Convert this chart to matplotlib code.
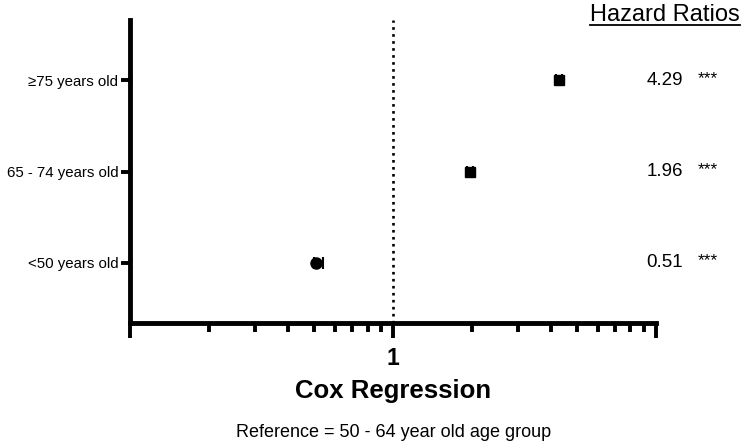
import matplotlib
matplotlib.use("Agg")
import matplotlib.pyplot as plt
import matplotlib.ticker as ticker
import matplotlib.transforms as transforms
from matplotlib.lines import Line2D

plt.rcParams['font.family'] = ['Liberation Sans', 'DejaVu Sans']

# data (bottom to top)
groups = ['<50 years old', '65 - 74 years old', '≥75 years old']
hr = [0.51, 1.96, 4.29]
ci_lo = [0.50, 1.91, 4.17]
ci_hi = [0.54, 2.01, 4.41]
hr_text = ['0.51', '1.96', '4.29']
sig = ['***', '***', '***']
markers = ['o', 's', 's']

fig = plt.figure(figsize=(7.49, 4.45), dpi=100)
ax = fig.add_axes([0.1736, 0.2742, 0.7022, 0.6808])

ypos = list(range(len(groups)))
for i in ypos:
    ax.errorbar(hr[i], i, xerr=[[hr[i] - ci_lo[i]], [ci_hi[i] - hr[i]]],
                fmt=markers[i], color='black', ms=8 if markers[i] == 'o' else 6.5,
                elinewidth=1.5, capsize=4, capthick=1.5)

# reference line at HR = 1
ax.axvline(1, color='black', ls=':', lw=1.9)

ax.set_xscale('log')
ax.set_xlim(0.1, 10)
ax.set_ylim(-0.66, 2.66)

ax.xaxis.set_major_locator(ticker.FixedLocator([0.1, 1, 10]))
ax.xaxis.set_major_formatter(ticker.FixedFormatter(['', '1', '']))
ax.xaxis.set_minor_locator(ticker.LogLocator(base=10, subs=range(2, 10)))
ax.xaxis.set_minor_formatter(ticker.NullFormatter())

ax.set_yticks(ypos)
ax.set_yticklabels(groups, fontsize=10.8)

for s in ['top', 'right']:
    ax.spines[s].set_visible(False)
for s in ['left', 'bottom']:
    ax.spines[s].set_linewidth(3.5)

ax.tick_params(axis='x', which='major', length=11, width=2.8, labelsize=16.5, pad=6)
ax.tick_params(axis='x', which='minor', length=6.5, width=2.8)
ax.tick_params(axis='y', length=6.5, width=2.8, pad=2)
for lab in ax.get_xticklabels():
    lab.set_fontweight('bold')

fig.text(0.525, 0.121, 'Cox Regression', ha='center', va='center',
         fontsize=18.5, fontweight='bold')
fig.text(0.525, 0.029, 'Reference = 50 - 64 year old age group', ha='center',
         va='center', fontsize=13)

# hazard ratio column on the right
trans = transforms.blended_transform_factory(fig.transFigure, ax.transData)
for i in ypos:
    ax.text(0.912, i, hr_text[i], transform=trans, ha='right', va='center',
            fontsize=13.5, clip_on=False)
    ax.text(0.931, i + 0.02, sig[i], transform=trans, ha='left', va='center',
            fontsize=12.5, clip_on=False)

title = fig.text(0.888, 0.966, 'Hazard Ratios', ha='center', va='center', fontsize=17)

# underline for the column header
fig.canvas.draw()
bb = title.get_window_extent().transformed(fig.transFigure.inverted())
fig.add_artist(Line2D([bb.x0, bb.x1], [bb.y0 + 0.002, bb.y0 + 0.002],
                      color='black', lw=1.3, transform=fig.transFigure))

fig.savefig('out.png', dpi=100)
